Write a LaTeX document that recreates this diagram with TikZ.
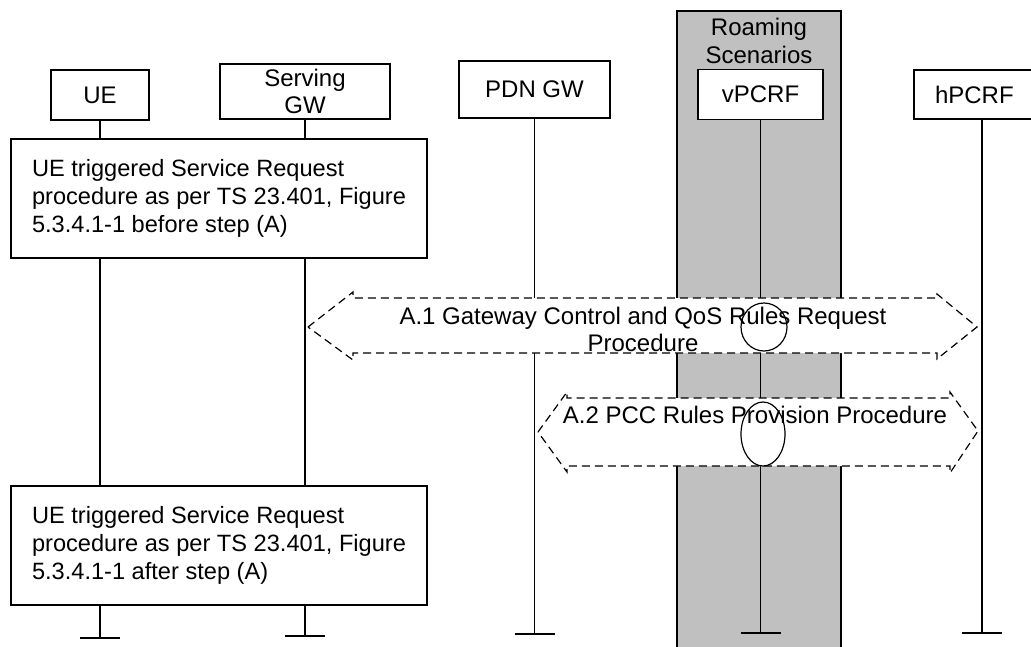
\documentclass[tikz,border=0pt]{standalone}
\usepackage{fontspec}
\setmainfont{Liberation Sans}
\usetikzlibrary{shapes.geometric}
\usetikzlibrary{positioning}

\definecolor{roamgray}{HTML}{C0C0C0}

\tikzset{
	entity/.style={draw, fill=white, line width=1.2pt, inner sep=0pt, align=center},
	procbox/.style={draw, fill=white, line width=1.2pt, minimum width=416, minimum height=119,
		align=left, font=\fontsize{23.6}{27.8}\selectfont},
	lifeline/.style={line width=1.2pt},
	procarrow/.style={draw, fill=white, line width=1.2pt, dash pattern=on 8pt off 5pt},
	marker/.style={ellipse, draw, line width=1.2pt, inner sep=0pt},
}

\begin{document}
\begin{tikzpicture}[x=1pt, y=-1pt, every node/.style={font=\fontsize{24}{27.6}\selectfont}]
	\useasboundingbox (0,0) rectangle (1031,646);

	% roaming area
	\draw[line width=1.2pt, fill=roamgray] (677,11) rectangle (841,660);
	\node[align=center] (roam) at (759,41) {Roaming\\Scenarios};

	% entities
	\node[entity, minimum width=98, minimum height=50] (ue) at (100,95) {UE};
	\node[entity, minimum width=170, minimum height=55] (sgw) at (305,91.5) {Serving\\GW};
	\node[entity, minimum width=151, minimum height=57] (pgw) at (534.5,89.5) {PDN GW};
	\node[entity, minimum width=125, minimum height=50] (vpcrf) at (760.5,94.5) {vPCRF};
	\node[entity, minimum width=136, minimum height=49, text width=94, inner xsep=21, align=left] (hpcrf) at (982,94.5) {hPCRF};

	\foreach \n/\e in {ue/638, sgw/636, pgw/634, vpcrf/633, hpcrf/633}{
		\draw[lifeline] (\n.south) -- (\n.south |- 0,\e) coordinate (\n-end);
		\draw[lifeline] ([xshift=-20]\n-end) -- ([xshift=20]\n-end);
	}

	% service request parts
	\node[procbox] (before) at (219,198.5) {UE triggered Service Request\\procedure as per TS 23.401, Figure\\5.3.4.1-1 before step (A)};
	\node[procbox] (after) at (219,545.5) {UE triggered Service Request\\procedure as per TS 23.401, Figure\\5.3.4.1-1 after step (A)};

	% A.1
	\draw[procarrow] (308,327) -- (353,292) -- (353,298) -- (937,298) -- (937,294) -- (977,327)
		-- (937,359) -- (937,353) -- (353,353) -- (353,360) -- cycle;
	\node[align=center] (a1) at (643,329.5) {A.1 Gateway Control and QoS Rules Request\\Procedure};
	\node[marker, minimum width=46, minimum height=48] (m1) at (764,327) {};

	% A.2
	\draw[procarrow] (538,432) -- (567,392) -- (567,398) -- (950,398) -- (950,392) -- (978,431)
		-- (950,473) -- (950,466) -- (567,466) -- (567,472) -- cycle;
	\node (a2) at (755,415) {A.2 PCC Rules Provision Procedure};
	\node[marker, minimum width=44, minimum height=64] (m2) at (763,434) {};
\end{tikzpicture}
\end{document}
